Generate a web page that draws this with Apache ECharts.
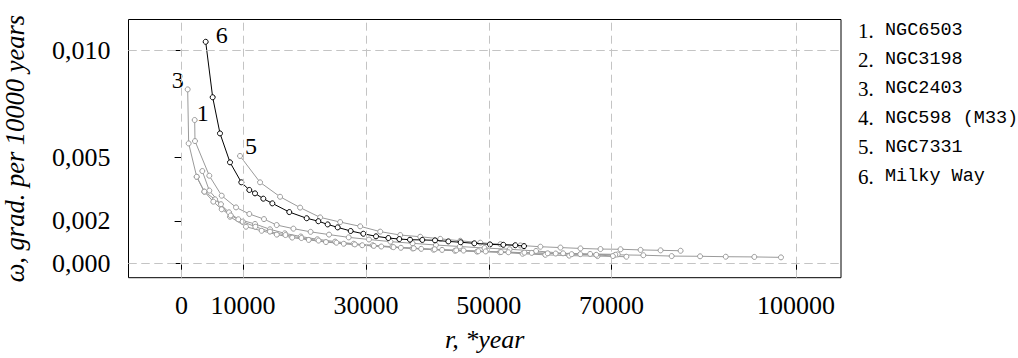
<!DOCTYPE html>
<html><head><meta charset="utf-8">
<script src="https://cdn.jsdelivr.net/npm/echarts@6/dist/echarts.min.js"></script>
<style>html,body{margin:0;padding:0;background:#fff}#c{width:1018px;height:358px}</style>
</head><body><div id="c"></div>
<script>
// ---- data ----
const xTicks = [0, 10000, 30000, 50000, 70000, 100000];
const yTicks = [0, 0.002, 0.005, 0.010];
const seriesNames = ['NGC6503', 'NGC3198', 'NGC2403', 'NGC598 (M33)', 'NGC7331', 'Milky Way'];
const curveLabels = ['1', '', '3', '', '5', '6'];

const s1 = [[2130,0.00674],[2180,0.00575],[4510,0.00412],[6530,0.00318],[8860,0.00263],[11020,0.00232],[13410,0.00208],[15480,0.00180],[18200,0.00163],[21000,0.00148],[24000,0.00135],[27200,0.00122],[30500,0.00112],[34000,0.00102],[37600,0.00094],[41400,0.00086],[45300,0.00079],[49300,0.00072],[53400,0.00066],[57700,0.00058],[62100,0.00047],[66500,0.00044],[71000,0.00042]];
const s2 = [[3370,0.00434],[4510,0.00342],[6410,0.00278],[7880,0.00219],[10480,0.00172],[13030,0.00153],[15500,0.00135],[18000,0.00121],[20700,0.00110],[23500,0.00100],[26400,0.00092],[29400,0.00085],[32500,0.00079],[35700,0.00073],[39000,0.00068],[42400,0.00063],[45900,0.00060],[49500,0.00056],[53200,0.00052],[57000,0.00049],[60900,0.00046],[64900,0.00043],[70600,0.00040],[75160,0.00038],[79780,0.00034],[84400,0.00033],[88580,0.00031],[93230,0.00030],[97570,0.00028]];
const s3 = [[990,0.00818],[1150,0.00564],[2460,0.00407],[3700,0.00337],[5440,0.00301],[7720,0.00240],[9230,0.00207],[11950,0.00185],[14390,0.00160],[16800,0.00141],[19400,0.00126],[22100,0.00113],[25000,0.00102],[28000,0.00092],[31100,0.00085],[34300,0.00078],[37600,0.00070],[41000,0.00064],[44500,0.00059],[48100,0.00055],[51800,0.00052],[55500,0.00045],[59200,0.00040],[63100,0.00036],[67700,0.00034],[72400,0.00031]];
const s4 = [[2460,0.00407],[3700,0.00337],[5160,0.00290],[6530,0.00254],[8000,0.00225],[9950,0.00196],[12000,0.00172],[14390,0.00149],[16900,0.00133],[19500,0.00119],[22300,0.00107],[25200,0.00097],[28200,0.00089],[31300,0.00082],[34500,0.00076],[37800,0.00071],[41200,0.00066],[44700,0.00061],[48300,0.00057],[52000,0.00053],[55800,0.00050],[59600,0.00047],[63500,0.00043],[67500,0.00040],[70200,0.00034]];
const s5 = [[9510,0.00505],[12770,0.00381],[16030,0.00313],[19290,0.00262],[22550,0.00216],[25810,0.00194],[29070,0.00174],[32330,0.00149],[35590,0.00133],[38850,0.00125],[42110,0.00115],[45370,0.00106],[48630,0.00097],[51890,0.00090],[55150,0.00084],[58410,0.00078],[61670,0.00074],[64930,0.00070],[68190,0.00067],[71450,0.00066],[74710,0.00063],[77970,0.00061],[81230,0.00059]];
const s6 = [[3920,0.01042],[5060,0.00781],[6250,0.00611],[7880,0.00475],[9720,0.00381],[11020,0.00345],[11950,0.00329],[13300,0.00304],[14770,0.00282],[17530,0.00241],[20360,0.00212],[22260,0.00198],[23780,0.00183],[25410,0.00169],[27520,0.00152],[29580,0.00139],[31650,0.00127],[33650,0.00119],[35440,0.00114],[37180,0.00111],[39180,0.00110],[41250,0.00108],[43420,0.00103],[45430,0.00099],[47650,0.00094],[50200,0.00089],[52370,0.00087],[54320,0.00085],[55740,0.00081]];
const allSeries = [s1, s2, s3, s4, s5, s6];

// ---- styling / layout ----
const SERIF = '"Liberation Serif", "DejaVu Serif", serif';
const MONO = '"Liberation Mono", "DejaVu Sans Mono", monospace';
const GRAY = '#9a9a9a';
const labelOffsets = [[8,-7],[0,0],[-10,-9],[0,0],[11,-10],[16,-7]];

const chart = echarts.init(document.getElementById('c'), null, {renderer: 'svg'});

const series = [];
// grid dashed lines via markLine on a helper series
series.push({
  type: 'line', data: [], silent: true, z: 1,
  markLine: {
    silent: true, symbol: 'none', label: {show: false}, animation: false,
    lineStyle: {color: '#c4c4c4', type: [8, 5], width: 1},
    data: xTicks.map(v => ({xAxis: v})).concat(yTicks.map(v => ({yAxis: v})))
  }
});
allSeries.forEach((arr, i) => {
  const color = i === 5 ? '#000' : GRAY;
  series.push({
    type: 'line', name: seriesNames[i], z: i === 5 ? 4 : 3,
    symbol: 'circle', symbolSize: 5, showAllSymbol: true,
    lineStyle: {color: color, width: 1},
    itemStyle: {color: '#fff', borderColor: color, borderWidth: 1},
    emphasis: {disabled: true},
    animation: false,
    data: arr.map((p, j) => (j === 0 && curveLabels[i]) ? {
      value: p,
      label: {show: true, formatter: curveLabels[i], position: 'inside', offset: labelOffsets[i],
        fontFamily: SERIF, fontSize: 24, color: '#000', align: 'center', verticalAlign: 'middle'}
    } : p)
  });
});

const legendGraphics = [];
seriesNames.forEach((n, i) => {
  const y = 31 + i * 29.2;
  legendGraphics.push({type: 'text', left: 858, top: y - 11, style: {text: (i + 1) + '.', font: '21px ' + SERIF, fill: '#000'}});
  legendGraphics.push({type: 'text', left: 885, top: y - 10, style: {text: n, font: '18.5px ' + MONO, fill: '#000'}});
});

chart.setOption({
  animation: false,
  backgroundColor: '#fff',
  grid: {left: 128.5, right: 177, top: 19.5, bottom: 80.3, show: true, borderColor: '#000', borderWidth: 1, backgroundColor: 'transparent', containLabel: false, outerBoundsMode: 'none'},
  xAxis: {
    type: 'value', min: -8644, max: 107340,
    name: 'r, *year', nameLocation: 'middle', nameGap: 49,
    nameTextStyle: {fontFamily: SERIF, fontStyle: 'italic', fontSize: 26, color: '#000'},
    axisLine: {show: false},
    axisTick: {show: true, customValues: xTicks, length: 7, lineStyle: {color: '#000'}},
    axisLabel: {customValues: xTicks, fontFamily: SERIF, fontSize: 26, color: '#000', margin: 15, formatter: v => String(v)},
    splitLine: {show: false}
  },
  yAxis: {
    type: 'value', min: -0.000677, max: 0.011468,
    name: 'ω, grad. per 10000 years', nameLocation: 'middle', nameGap: 100,
    nameTextStyle: {fontFamily: SERIF, fontStyle: 'italic', fontSize: 26.5, color: '#000'},
    axisLine: {show: false},
    axisTick: {show: true, customValues: yTicks, length: 7, lineStyle: {color: '#000'}},
    axisLabel: {customValues: yTicks, fontFamily: SERIF, fontSize: 26, color: '#000', margin: 18, formatter: v => v.toFixed(3).replace('.', ',')},
    splitLine: {show: false}
  },
  graphic: legendGraphics,
  series: series
});
</script>
</body></html>
